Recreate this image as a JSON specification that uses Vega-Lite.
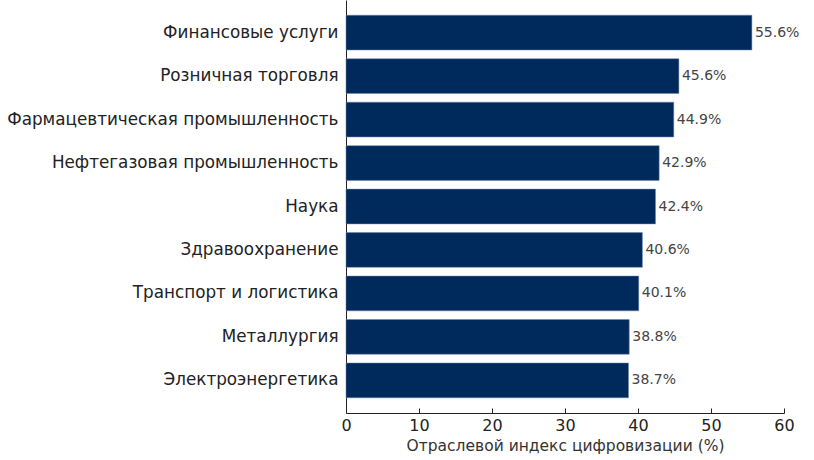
{
  "$schema": "https://vega.github.io/schema/vega-lite/v6.json",
  "autosize": "none",
  "padding": {"left": 346, "top": 0, "right": 30, "bottom": 47},
  "width": 438,
  "height": 413,
  "background": "white",
  "config": {
    "view": {"stroke": null},
    "font": "DejaVu Sans"
  },
  "data": {
    "values": [
      {"sector": "Финансовые услуги", "value": 55.6, "label": "55.6%"},
      {"sector": "Розничная торговля", "value": 45.6, "label": "45.6%"},
      {"sector": "Фармацевтическая промышленность", "value": 44.9, "label": "44.9%"},
      {"sector": "Нефтегазовая промышленность", "value": 42.9, "label": "42.9%"},
      {"sector": "Наука", "value": 42.4, "label": "42.4%"},
      {"sector": "Здравоохранение", "value": 40.6, "label": "40.6%"},
      {"sector": "Транспорт и логистика", "value": 40.1, "label": "40.1%"},
      {"sector": "Металлургия", "value": 38.8, "label": "38.8%"},
      {"sector": "Электроэнергетика", "value": 38.7, "label": "38.7%"}
    ]
  },
  "encoding": {
    "y": {
      "field": "sector",
      "type": "nominal",
      "sort": null,
      "scale": {"paddingInner": 0.2, "paddingOuter": 0.35},
      "axis": {
        "title": null,
        "ticks": false,
        "domainColor": "#222222",
        "labelFont": "DejaVu Sans",
        "labelFontSize": 16.8,
        "labelColor": "#222222",
        "labelPadding": 8,
        "labelLimit": 400
      }
    },
    "x": {
      "field": "value",
      "type": "quantitative",
      "scale": {"domain": [0, 60], "nice": false},
      "axis": {
        "values": [0, 10, 20, 30, 40, 50, 60],
        "grid": false,
        "title": "Отраслевой индекс цифровизации (%)",
        "titleFont": "DejaVu Sans",
        "titleFontSize": 15.5,
        "titleFontWeight": "normal",
        "titleColor": "#333333",
        "titlePadding": 5,
        "labelFont": "DejaVu Sans",
        "labelFontSize": 16,
        "labelColor": "#222222",
        "tickSize": -5,
        "tickColor": "#222222",
        "domainColor": "#222222",
        "labelPadding": 9,
        "labelFlush": false
      }
    }
  },
  "layer": [
    {
      "mark": {"type": "bar", "color": "#002a5c", "stroke": "#6f86a8", "strokeWidth": 0.5}
    },
    {
      "mark": {"type": "text", "align": "left", "baseline": "middle", "dx": 3, "fontSize": 14, "color": "#444444", "font": "DejaVu Sans"},
      "encoding": {"text": {"field": "label"}}
    }
  ]
}
